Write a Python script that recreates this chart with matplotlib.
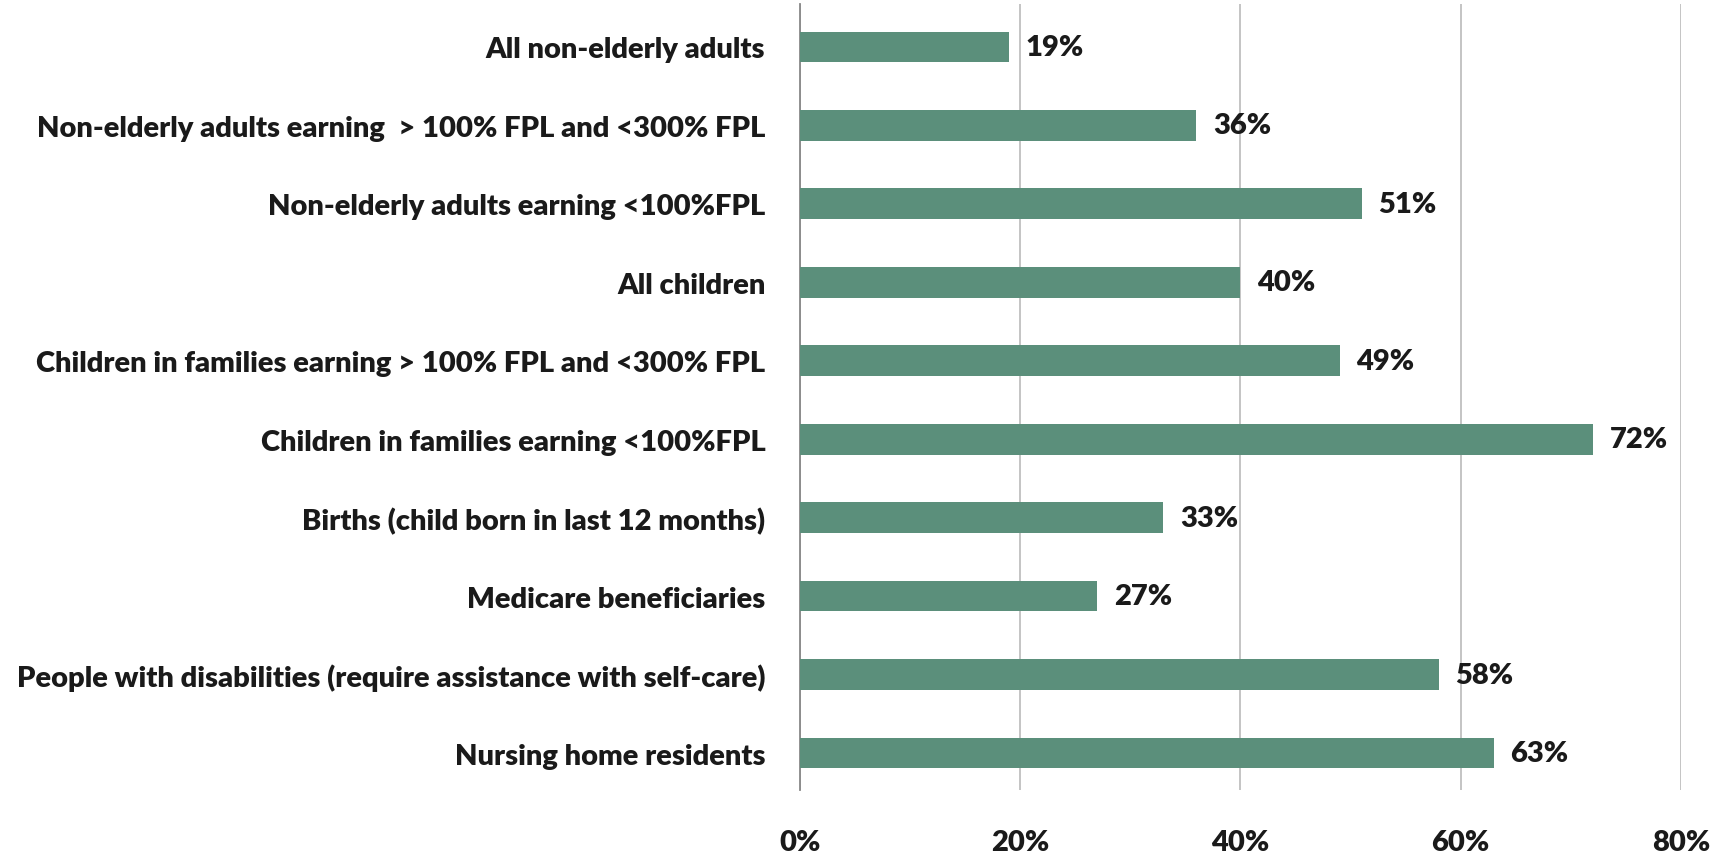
import matplotlib
matplotlib.use('Agg')
import matplotlib.pyplot as plt
from matplotlib.ticker import FuncFormatter

categories = [
    "All non-elderly adults",
    "Non-elderly adults earning  > 100% FPL and <300% FPL",
    "Non-elderly adults earning <100%FPL",
    "All children",
    "Children in families earning > 100% FPL and <300% FPL",
    "Children in families earning <100%FPL",
    "Births (child born in last 12 months)",
    "Medicare beneficiaries",
    "People with disabilities (require assistance with self-care)",
    "Nursing home residents",
]
values = [19, 36, 51, 40, 49, 72, 33, 27, 58, 63]
xticks = [0, 20, 40, 60, 80]

plt.rcParams['font.family'] = ['Lato', 'DejaVu Sans']
plt.rcParams['font.weight'] = 'bold'

fig = plt.figure(figsize=(17.23, 8.53), dpi=100)
ax = fig.add_axes([0.4643, 0.0727, 0.5113, 0.9209])

pos = list(range(len(categories)))
ax.barh(pos, values, height=0.39, color='#5B8F7B', zorder=3)
for p, v in zip(pos, values):
    ax.text(v + 1.5, p, f"{v}%", va='center', ha='left', fontsize=21,
            fontweight='heavy', color='#1a1a1a')

ax.set_xlim(0, 80)
ax.set_ylim(9.47, -0.54)
ax.set_xticks(xticks)
ax.xaxis.set_major_formatter(FuncFormatter(lambda x, _: f"{int(x)}%"))
ax.set_yticks(pos)
ax.set_yticklabels(categories)
ax.grid(axis='x', color='#BFBFBF', lw=1.3, zorder=0)
for s in ['top', 'right', 'bottom']:
    ax.spines[s].set_visible(False)
ax.spines['left'].set_color('#888888')
ax.spines['left'].set_linewidth(1.3)
ax.tick_params(axis='y', length=0, pad=25, labelsize=21, labelcolor='#1a1a1a')
ax.tick_params(axis='x', length=0, pad=28, labelsize=21, labelcolor='#1a1a1a')
for lbl in ax.get_xticklabels() + ax.get_yticklabels():
    lbl.set_fontweight('heavy')

fig.savefig('out.png', dpi=100)
